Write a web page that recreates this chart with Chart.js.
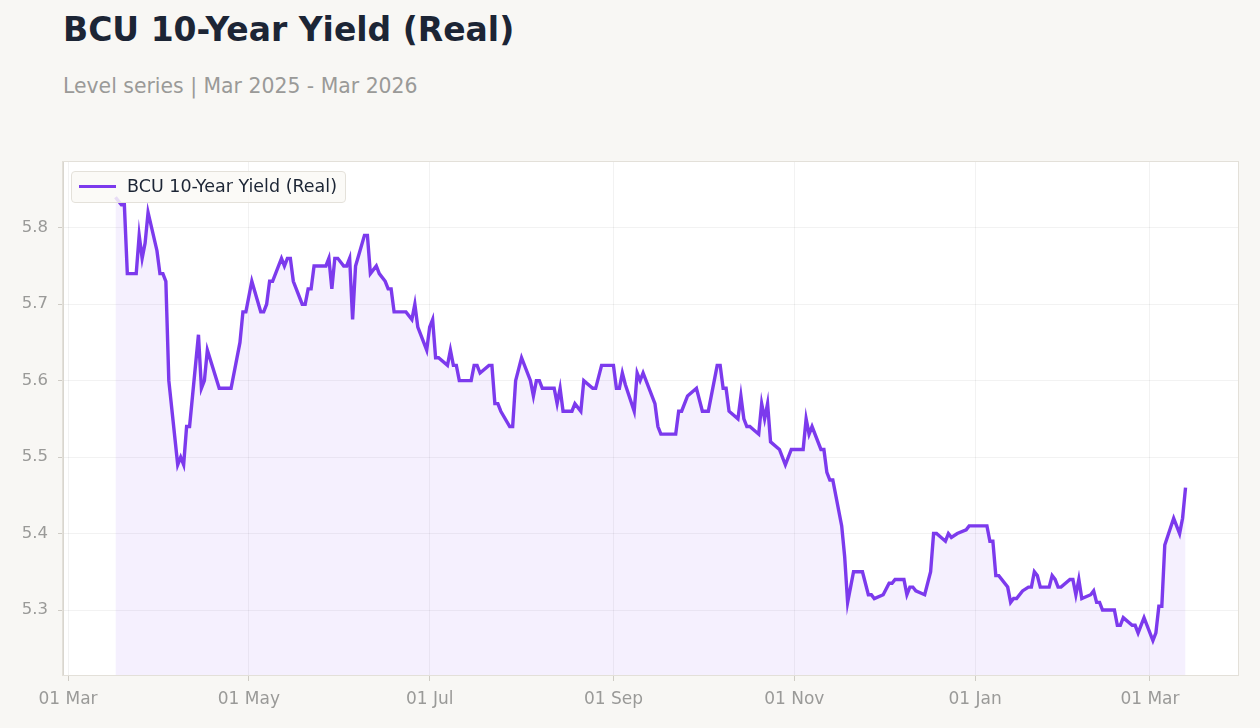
<!DOCTYPE html>
<html>
<head>
<meta charset="utf-8">
<title>BCU 10-Year Yield (Real)</title>
<script src="https://cdn.jsdelivr.net/npm/chart.js@4.4.1/dist/chart.umd.min.js"></script>
<style>
  html, body { margin: 0; padding: 0; background: #f8f7f4; }
  body { width: 1260px; height: 728px; position: relative; overflow: hidden; font-family: "DejaVu Sans", sans-serif; }
  #title { position: absolute; left: 63px; top: 10px; font-size: 33px; font-weight: bold; color: #1c2535; }
  #subtitle { position: absolute; left: 63px; top: 74px; font-size: 20.4px; color: #9a9a98; }
  #chartBox { position: absolute; left: 0; top: 0; width: 1260px; height: 728px; }
  #legend { position: absolute; left: 71px; top: 171px; width: 273px; height: 30px;
    border: 1px solid #e4e1da; border-radius: 4px; background: rgba(250, 249, 246, 0.85);
    font-size: 17.5px; color: #1c2535; }
  #legend .swatch { position: absolute; left: 7px; top: 13px; width: 37px; height: 3px; background: #7c3aed; }
  #legend .label { position: absolute; left: 55px; top: 4px; white-space: nowrap; }
</style>
</head>
<body>
<div id="title">BCU 10-Year Yield (Real)</div>
<div id="subtitle">Level series | Mar 2025 - Mar 2026</div>
<div id="chartBox"><canvas id="yieldChart" width="1260" height="728"></canvas></div>
<div id="legend"><div class="swatch"></div><div class="label">BCU 10-Year Yield (Real)</div></div>

<script>
// Data =================================

const seriesName = 'BCU 10-Year Yield (Real)';

const dates = [
  '2025-03-17', '2025-03-19', '2025-03-20', '2025-03-21', '2025-03-24', '2025-03-25', '2025-03-26', '2025-03-27', '2025-03-28', '2025-03-31',
  '2025-04-01', '2025-04-02', '2025-04-03', '2025-04-04', '2025-04-07', '2025-04-08', '2025-04-09', '2025-04-10', '2025-04-11', '2025-04-14',
  '2025-04-15', '2025-04-16', '2025-04-17', '2025-04-21', '2025-04-25', '2025-04-28', '2025-04-29', '2025-04-30', '2025-05-02', '2025-05-05',
  '2025-05-06', '2025-05-07', '2025-05-08', '2025-05-09', '2025-05-12', '2025-05-13', '2025-05-14', '2025-05-15', '2025-05-16', '2025-05-19',
  '2025-05-20', '2025-05-21', '2025-05-22', '2025-05-23', '2025-05-27', '2025-05-28', '2025-05-29', '2025-05-30', '2025-05-31', '2025-06-02',
  '2025-06-03', '2025-06-04', '2025-06-05', '2025-06-06', '2025-06-09', '2025-06-10', '2025-06-11', '2025-06-13', '2025-06-14', '2025-06-16',
  '2025-06-17', '2025-06-18', '2025-06-19', '2025-06-23', '2025-06-25', '2025-06-26', '2025-06-27', '2025-06-30', '2025-07-01', '2025-07-02',
  '2025-07-03', '2025-07-04', '2025-07-07', '2025-07-08', '2025-07-09', '2025-07-10', '2025-07-11', '2025-07-15', '2025-07-16', '2025-07-17',
  '2025-07-18', '2025-07-21', '2025-07-22', '2025-07-23', '2025-07-24', '2025-07-25', '2025-07-28', '2025-07-29', '2025-07-30', '2025-08-01',
  '2025-08-04', '2025-08-05', '2025-08-06', '2025-08-07', '2025-08-08', '2025-08-12', '2025-08-13', '2025-08-14', '2025-08-15', '2025-08-18',
  '2025-08-19', '2025-08-21', '2025-08-22', '2025-08-25', '2025-08-26', '2025-08-28', '2025-09-01', '2025-09-02', '2025-09-03', '2025-09-04',
  '2025-09-05', '2025-09-08', '2025-09-09', '2025-09-10', '2025-09-11', '2025-09-15', '2025-09-16', '2025-09-17', '2025-09-22', '2025-09-23',
  '2025-09-24', '2025-09-26', '2025-09-29', '2025-10-01', '2025-10-03', '2025-10-06', '2025-10-07', '2025-10-08', '2025-10-09', '2025-10-10',
  '2025-10-13', '2025-10-14', '2025-10-15', '2025-10-16', '2025-10-17', '2025-10-20', '2025-10-21', '2025-10-22', '2025-10-23', '2025-10-24',
  '2025-10-27', '2025-10-29', '2025-10-31', '2025-11-04', '2025-11-05', '2025-11-06', '2025-11-07', '2025-11-10', '2025-11-11', '2025-11-12',
  '2025-11-13', '2025-11-14', '2025-11-17', '2025-11-18', '2025-11-19', '2025-11-20', '2025-11-21', '2025-11-24', '2025-11-26', '2025-11-27',
  '2025-11-28', '2025-12-01', '2025-12-03', '2025-12-04', '2025-12-05', '2025-12-08', '2025-12-09', '2025-12-10', '2025-12-11', '2025-12-12',
  '2025-12-15', '2025-12-17', '2025-12-18', '2025-12-19', '2025-12-22', '2025-12-23', '2025-12-24', '2025-12-26', '2025-12-29', '2025-12-30',
  '2026-01-05', '2026-01-06', '2026-01-07', '2026-01-08', '2026-01-09', '2026-01-12', '2026-01-13', '2026-01-14', '2026-01-15', '2026-01-17',
  '2026-01-19', '2026-01-20', '2026-01-21', '2026-01-22', '2026-01-23', '2026-01-26', '2026-01-27', '2026-01-28', '2026-01-29', '2026-01-30',
  '2026-02-02', '2026-02-03', '2026-02-04', '2026-02-05', '2026-02-06', '2026-02-09', '2026-02-10', '2026-02-11', '2026-02-12', '2026-02-13',
  '2026-02-17', '2026-02-18', '2026-02-19', '2026-02-20', '2026-02-23', '2026-02-24', '2026-02-25', '2026-02-27', '2026-03-02', '2026-03-03',
  '2026-03-04', '2026-03-05', '2026-03-06', '2026-03-09', '2026-03-11', '2026-03-12', '2026-03-13'
];

const yields = [
  5.84, 5.83, 5.83, 5.74, 5.74, 5.79, 5.76, 5.78, 5.82, 5.77,
  5.74, 5.74, 5.73, 5.60, 5.49, 5.50, 5.49, 5.54, 5.54, 5.66,
  5.59, 5.60, 5.64, 5.59, 5.59, 5.65, 5.69, 5.69, 5.73, 5.69,
  5.69, 5.70, 5.73, 5.73, 5.76, 5.75, 5.76, 5.76, 5.73, 5.70,
  5.70, 5.72, 5.72, 5.75, 5.75, 5.76, 5.72, 5.76, 5.76, 5.75,
  5.75, 5.76, 5.68, 5.75, 5.79, 5.79, 5.74, 5.75, 5.74, 5.73,
  5.72, 5.72, 5.69, 5.69, 5.68, 5.70, 5.67, 5.64, 5.67, 5.68,
  5.63, 5.63, 5.62, 5.64, 5.62, 5.62, 5.60, 5.60, 5.62, 5.62,
  5.61, 5.62, 5.62, 5.57, 5.57, 5.56, 5.54, 5.54, 5.60, 5.63,
  5.60, 5.58, 5.60, 5.60, 5.59, 5.59, 5.57, 5.59, 5.56, 5.56,
  5.57, 5.56, 5.60, 5.59, 5.59, 5.62, 5.62, 5.59, 5.59, 5.61,
  5.595, 5.56, 5.61, 5.60, 5.61, 5.57, 5.54, 5.53, 5.53, 5.56,
  5.56, 5.58, 5.59, 5.56, 5.56, 5.62, 5.62, 5.59, 5.59, 5.56,
  5.55, 5.58, 5.55, 5.54, 5.54, 5.53, 5.57, 5.55, 5.57, 5.52,
  5.51, 5.49, 5.51, 5.51, 5.55, 5.53, 5.54, 5.51, 5.51, 5.48,
  5.47, 5.47, 5.41, 5.37, 5.31, 5.33, 5.35, 5.35, 5.32, 5.32,
  5.315, 5.32, 5.335, 5.335, 5.34, 5.34, 5.32, 5.33, 5.33, 5.325,
  5.32, 5.35, 5.40, 5.40, 5.39, 5.40, 5.395, 5.40, 5.405, 5.41,
  5.41, 5.39, 5.39, 5.345, 5.345, 5.33, 5.31, 5.315, 5.315, 5.325,
  5.33, 5.33, 5.35, 5.345, 5.33, 5.33, 5.345, 5.34, 5.33, 5.33,
  5.34, 5.34, 5.32, 5.34, 5.315, 5.32, 5.325, 5.31, 5.31, 5.30,
  5.30, 5.28, 5.28, 5.29, 5.28, 5.28, 5.27, 5.29, 5.26, 5.27,
  5.305, 5.305, 5.385, 5.42, 5.40, 5.42, 5.46
];

// x axis ticks (every two months)
const tickDates = ['2025-03-01', '2025-05-01', '2025-07-01', '2025-09-01', '2025-11-01', '2026-01-01', '2026-03-01'];
const tickLabels = ['01 Mar', '01 May', '01 Jul', '01 Sep', '01 Nov', '01 Jan', '01 Mar'];

// y axis ticks
const yTicks = [5.3, 5.4, 5.5, 5.6, 5.7, 5.8];

//   Helpers =============================

// days since 01 Mar 2025 (no date adapter available, so use a linear x axis)
function dayNum(s) {
  const p = s.split('-').map(Number);
  return (Date.UTC(p[0], p[1] - 1, p[2]) - Date.UTC(2025, 2, 1)) / 864e5;
}

const points = dates.map((d, i) => ({ x: dayNum(d), y: yields[i] }));
const tickDays = tickDates.map(dayNum);

// white plot area + thin frame
const plotFrame = {
  id: 'plotFrame',
  beforeDraw(chart) {
    const a = chart.chartArea, ctx = chart.ctx;
    ctx.save();
    ctx.fillStyle = '#ffffff';
    ctx.fillRect(a.left, a.top, a.right - a.left, a.bottom - a.top);
    ctx.restore();
  },
  afterDraw(chart) {
    const a = chart.chartArea, ctx = chart.ctx;
    ctx.save();
    ctx.strokeStyle = '#e3e0d9';
    ctx.lineWidth = 1;
    ctx.strokeRect(a.left - 0.5, a.top - 0.5, a.right - a.left + 1, a.bottom - a.top + 1);
    ctx.restore();
  }
};

//   Chart ===============================

const yieldChart = new Chart(document.getElementById('yieldChart'), {
  type: 'line',
  data: {
    datasets: [{
      label: seriesName,
      data: points,
      borderColor: '#7c3aed',
      backgroundColor: 'rgba(124, 58, 237, 0.08)',
      borderWidth: 3.4,
      fill: 'start',
      tension: 0,
      pointRadius: 0
    }]
  },
  options: {
    responsive: false,
    animation: false,
    devicePixelRatio: 1,
    layout: { padding: { top: 162, right: 22, left: 0, bottom: 0 } },
    plugins: {
      legend: { display: false },
      tooltip: { enabled: false }
    },
    scales: {
      x: {
        type: 'linear',
        min: -1.7,
        max: 394.7,
        afterBuildTicks(scale) {
          scale.ticks = tickDays.map(v => ({ value: v }));
        },
        afterFit(scale) { scale.height = 53; },
        ticks: {
          autoSkip: false,
          maxRotation: 0,
          padding: 8,
          color: '#9a9a98',
          font: { family: 'DejaVu Sans', size: 17 },
          callback: function(value) {
            const i = tickDays.indexOf(value);
            return i >= 0 ? tickLabels[i] : '';
          }
        },
        grid: { color: 'rgba(0, 0, 0, 0.05)', tickColor: '#cfccc5', tickLength: 6 },
        border: { color: '#d9d6cf' }
      },
      y: {
        min: 5.215,
        max: 5.886,
        afterBuildTicks(scale) {
          scale.ticks = yTicks.map(v => ({ value: v }));
        },
        afterFit(scale) { scale.width = 63; },
        ticks: {
          padding: 10,
          color: '#9a9a98',
          font: { family: 'DejaVu Sans', size: 16.5 },
          callback: function(value) { return value.toFixed(1); }
        },
        grid: { color: 'rgba(0, 0, 0, 0.05)', tickColor: '#cfccc5', tickLength: 5 },
        border: { color: '#d9d6cf' }
      }
    }
  },
  plugins: [plotFrame]
});
</script>
</body>
</html>
